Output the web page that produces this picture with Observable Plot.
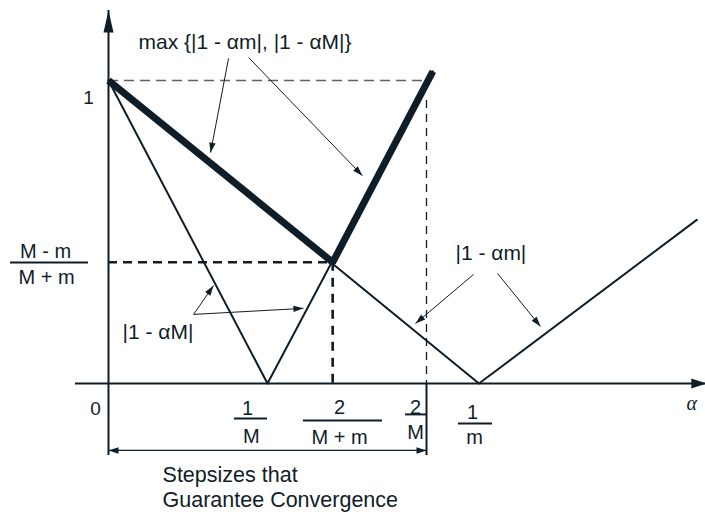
<!DOCTYPE html>
<html><head><meta charset="utf-8">
<script src="https://cdn.jsdelivr.net/npm/d3@7"></script>
<script src="https://cdn.jsdelivr.net/npm/@observablehq/plot@0.6"></script>
<style>body{margin:0;background:#fff}#chart svg{display:block}</style>
</head><body><div id="chart"></div>
<script>
// ---- data (step size α in units of 1/M) ----
const alphaKeys = ["0", "1/M", "2/(M+m)", "2/M", "1/m"];
const alphaValues = [0, 1, 1.41, 2, 2.33];
const curveMAlpha = [0, 1, 2.04];      // |1 - αM|
const curveMValue = [1, 0, 1.03];
const curvemAlpha = [0, 2.33, 3.70];   // |1 - αm|
const curvemValue = [1, 0, 0.54];
const maxAlpha = [0, 1.41, 2.04];      // max{|1 - αm|, |1 - αM|}
const maxValue = [1, 0.40, 1.03];
const rateValue = 0.40;                // (M - m)/(M + m)
const rateNum = "M - m", rateDen = "M + m";
const tickNum = ["1", "2", "2", "1"];
const tickDen = ["M", "M + m", "M", "m"];

// ---- layout ----
const W = 705, H = 512, INK = "#0f1d28", FONT = "Liberation Sans, Arial, Helvetica, sans-serif";
const xDomain = [-108/159, 597/159], yDomain = [-129/303, 383/303];
const xs = d3.scaleLinear(xDomain, [0, W]), ys = d3.scaleLinear(yDomain, [H, 0]);
const pts = (a, v) => a.map((x, i) => ({x, y: v[i]}));
const a1M = alphaValues[1], aOpt = alphaValues[2], a2M = alphaValues[3], a1m = alphaValues[4];
const bracketY = -0.221, lowEnd = -0.238;

function head(len, hw, deg) {
  const a = deg * Math.PI / 180, c = Math.cos(a), s = Math.sin(a);
  const rot = (px, py) => [px * c - py * s, px * s + py * c];
  return {draw(ctx) {
    const p0 = rot(0, 0), p1 = rot(-hw, len), p2 = rot(hw, len);
    ctx.moveTo(p0[0], p0[1]); ctx.lineTo(p1[0], p1[1]); ctx.lineTo(p2[0], p2[1]); ctx.closePath();
  }};
}
function headAt(x, y, deg, len, hw) {
  return Plot.dot([{x, y}], {x: "x", y: "y", r: 5, symbol: head(len, hw, deg), fill: INK, stroke: "none"});
}
function arrowTo(x1, y1, x2, y2) {
  const dx = xs(x2) - xs(x1), dy = ys(y2) - ys(y1);
  const deg = Math.atan2(dx, -dy) * 180 / Math.PI;
  return [Plot.link([{x1, y1, x2, y2}], {x1: "x1", y1: "y1", x2: "x2", y2: "y2", stroke: INK, strokeWidth: 1}),
          headAt(x2, y2, deg, 10, 3.2)];
}
const txt = (s, x, y, o = {}) => Plot.text([s], {x: () => x, y: () => y, text: d => d, fontFamily: FONT, fontSize: 20, fill: INK, ...o});

const fracLayout = [
  {nx: 0.874, ny: -0.0825, dx: 0.899, dy: -0.175, b1: 0.792, b2: 1.0, by: -0.1155},
  {nx: 1.453, ny: -0.079, dx: 1.453, dy: -0.178, b1: 1.226, b2: 1.723, by: -0.122},
  {nx: 1.931, ny: -0.079, dx: 1.931, dy: -0.162, b1: 1.868, b2: a2M, by: -0.102},
  {nx: 2.289, ny: -0.096, dx: 2.302, dy: -0.178, b1: 2.201, b2: 2.415, by: -0.132}
];
const fracMarks = fracLayout.flatMap((f, i) => [
  txt(tickNum[i], f.nx, f.ny, {textAnchor: "middle"}),
  txt(tickDen[i], f.dx, f.dy, {textAnchor: "middle"}),
  Plot.ruleY([f.by], {x1: f.b1, x2: f.b2, stroke: INK, strokeWidth: 2})
]);

const chart = Plot.plot({
  width: W, height: H, margin: 0,
  x: {domain: xDomain, axis: null}, y: {domain: yDomain, axis: null},
  style: {background: "#fff", overflow: "visible"},
  marks: [
    // guide lines
    Plot.ruleY([1], {x1: 0, x2: a2M, stroke: "#59636b", strokeWidth: 1.5, strokeDasharray: "10,6"}),
    Plot.ruleX([a2M], {y1: 0.934, y2: 0, stroke: INK, strokeWidth: 1.3, strokeDasharray: "8,6"}),
    Plot.ruleY([rateValue], {x1: 0, x2: aOpt, stroke: INK, strokeWidth: 2.6, strokeDasharray: "9,6"}),
    Plot.ruleX([aOpt], {y1: rateValue, y2: 0, stroke: INK, strokeWidth: 2.6, strokeDasharray: "9,7"}),
    // axes
    Plot.ruleY([0], {x1: -0.2075, x2: xDomain[1], stroke: INK, strokeWidth: 2}),
    Plot.ruleX([0], {y1: lowEnd, y2: 1.231, stroke: INK, strokeWidth: 2}),
    headAt(0, 1.231, 0, 22, 5),
    headAt(xDomain[1] + 0.005, 0, 90, 15, 5),
    // bracket
    Plot.ruleX([a2M], {y1: 0, y2: lowEnd, stroke: INK, strokeWidth: 2}),
    Plot.ruleY([bracketY], {x1: 0, x2: a2M, stroke: INK, strokeWidth: 1.3}),
    headAt(0, bracketY, -90, 10, 3.2),
    headAt(a2M, bracketY, 90, 10, 3.2),
    // curves
    Plot.line(pts(curveMAlpha, curveMValue), {x: "x", y: "y", stroke: INK, strokeWidth: 2}),
    Plot.line(pts(curvemAlpha, curvemValue), {x: "x", y: "y", stroke: INK, strokeWidth: 2}),
    Plot.line(pts(maxAlpha, maxValue), {x: "x", y: "y", stroke: INK, strokeWidth: 7, strokeLinejoin: "miter", strokeLinecap: "butt"}),
    // annotations
    txt("max {|1 - αm|, |1 - αM|}", 0.189, 1.125, {textAnchor: "start", fontSize: 21}),
    ...arrowTo(0.755, 1.073, 0.642, 0.762),
    ...arrowTo(0.881, 1.076, 1.597, 0.686),
    txt("|1 - αM|", 0.088, 0.168, {textAnchor: "start", fontSize: 21}),
    ...arrowTo(0.535, 0.228, 0.660, 0.323),
    ...arrowTo(0.535, 0.228, 1.226, 0.248),
    txt("|1 - αm|", 2.182, 0.429, {textAnchor: "start", fontSize: 21}),
    ...arrowTo(2.296, 0.360, 1.931, 0.198),
    ...arrowTo(2.447, 0.363, 2.717, 0.188),
    // axis labels
    txt("1", -0.126, 0.944, {textAnchor: "middle", fontSize: 19}),
    txt("0", -0.082, -0.083, {textAnchor: "middle", fontSize: 19}),
    txt(rateNum, -0.396, 0.436, {textAnchor: "middle"}),
    txt(rateDen, -0.390, 0.350, {textAnchor: "middle"}),
    Plot.ruleY([0.399], {x1: -0.616, x2: -0.126, stroke: INK, strokeWidth: 2}),
    ...fracMarks,
    txt("α", 3.635, -0.066, {textAnchor: "start", fontFamily: "Liberation Serif, serif", fontStyle: "italic", fontSize: 20}),
    txt("Stepsizes that", 0.340, -0.302, {textAnchor: "start", fontSize: 21.5}),
    txt("Guarantee Convergence", 0.340, -0.386, {textAnchor: "start", fontSize: 21.5})
  ]
});
document.getElementById("chart").append(chart);
</script></body></html>
